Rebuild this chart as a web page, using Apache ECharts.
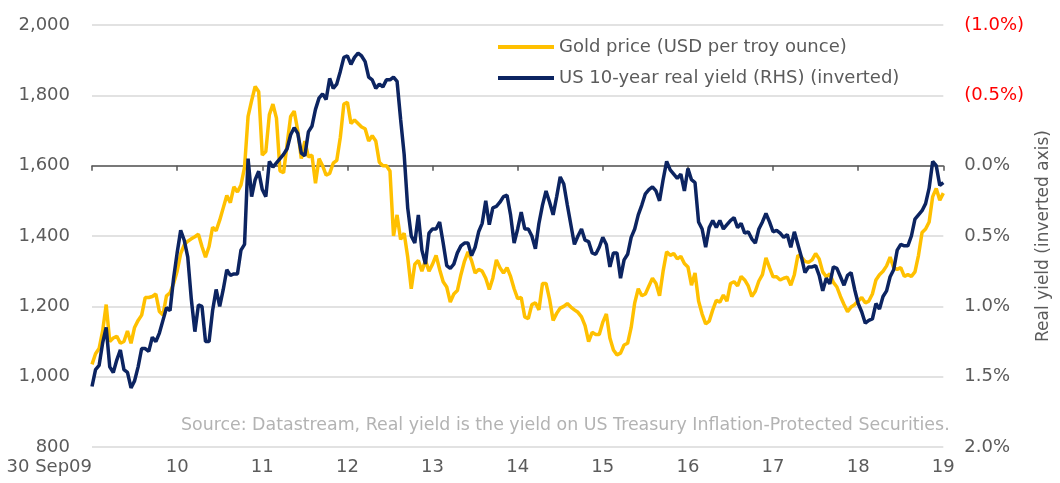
<!DOCTYPE html>
<html><head><meta charset="utf-8">
<script src="https://cdn.jsdelivr.net/npm/echarts@6/dist/echarts.min.js"></script>
<style>html,body{margin:0;padding:0;background:#fff}#c{width:1060px;height:483px}</style>
</head><body><div id="c"></div>
<script>
// Semi-monthly observations, 30 Sep 2009 .. 30 Sep 2019 (24 per year)
const xTickLabels = ['30 Sep09','10','11','12','13','14','15','16','17','18','19'];
const pointsPerYear = 24;
const goldPrice = [
1035,1065,1080,1130,1205,1100,1110,1115,1095,1100,
1130,1095,1140,1160,1175,1225,1225,1228,1235,1185,
1175,1230,1238,1265,1300,1350,1375,1385,1392,1398,
1405,1370,1340,1370,1425,1415,1445,1480,1515,1495,
1540,1525,1545,1595,1740,1785,1825,1810,1630,1640,
1745,1775,1735,1585,1580,1660,1740,1755,1700,1620,
1670,1625,1630,1550,1620,1600,1573,1578,1607,1615,
1680,1775,1780,1720,1730,1720,1710,1705,1670,1685,
1670,1610,1600,1600,1585,1400,1460,1390,1408,1340,
1250,1320,1330,1300,1330,1300,1320,1345,1305,1270,
1255,1212,1235,1245,1290,1328,1355,1330,1295,1305,
1300,1280,1248,1280,1332,1310,1295,1310,1285,1250,
1222,1225,1170,1165,1205,1210,1190,1265,1265,1220,
1160,1180,1195,1200,1208,1198,1190,1183,1170,1145,
1100,1126,1120,1120,1155,1178,1110,1076,1062,1067,
1090,1095,1140,1210,1250,1230,1235,1258,1280,1265,
1230,1300,1355,1345,1350,1335,1342,1322,1312,1260,
1295,1215,1178,1150,1158,1190,1217,1212,1232,1215,
1265,1270,1258,1285,1275,1258,1228,1243,1272,1290,
1338,1310,1284,1284,1275,1280,1283,1260,1290,1345,
1340,1328,1325,1332,1350,1335,1298,1284,1292,1268,
1255,1228,1205,1185,1198,1205,1215,1225,1210,1215,
1235,1275,1290,1300,1315,1340,1310,1305,1310,1285,
1290,1285,1298,1345,1410,1420,1440,1512,1535,1502,
1522];
const realYield = [
1.57,1.45,1.42,1.26,1.15,1.43,1.47,1.38,1.31,1.45,
1.47,1.58,1.53,1.43,1.30,1.30,1.32,1.22,1.25,1.19,
1.10,1.01,1.03,0.80,0.62,0.46,0.53,0.65,0.95,1.18,
0.99,1.00,1.25,1.25,1.03,0.88,1.00,0.88,0.74,0.78,
0.77,0.77,0.60,0.56,-0.05,0.22,0.10,0.04,0.17,0.22,
-0.03,0.01,-0.02,-0.05,-0.08,-0.12,-0.22,-0.27,-0.23,-0.09,
-0.07,-0.24,-0.28,-0.40,-0.48,-0.51,-0.47,-0.62,-0.55,-0.58,
-0.67,-0.77,-0.78,-0.72,-0.77,-0.80,-0.78,-0.74,-0.63,-0.61,
-0.55,-0.58,-0.56,-0.61,-0.61,-0.63,-0.60,-0.33,-0.08,0.30,
0.50,0.55,0.35,0.60,0.70,0.48,0.45,0.45,0.40,0.55,
0.71,0.73,0.70,0.62,0.57,0.55,0.55,0.64,0.58,0.47,
0.41,0.25,0.42,0.30,0.29,0.26,0.22,0.21,0.35,0.55,
0.45,0.33,0.45,0.45,0.50,0.59,0.41,0.28,0.18,0.26,
0.35,0.22,0.08,0.13,0.28,0.42,0.56,0.50,0.45,0.53,
0.54,0.62,0.63,0.58,0.51,0.56,0.72,0.62,0.62,0.80,
0.67,0.63,0.51,0.45,0.35,0.28,0.20,0.17,0.15,0.18,
0.25,0.10,-0.03,0.03,0.06,0.09,0.06,0.18,0.02,0.10,
0.12,0.40,0.45,0.58,0.44,0.39,0.44,0.39,0.45,0.42,
0.39,0.37,0.44,0.41,0.48,0.47,0.52,0.55,0.45,0.40,
0.34,0.40,0.47,0.46,0.48,0.51,0.49,0.58,0.47,0.56,
0.65,0.76,0.72,0.72,0.71,0.78,0.89,0.80,0.84,0.72,
0.73,0.79,0.85,0.78,0.76,0.88,0.98,1.04,1.12,1.10,
1.09,0.98,1.02,0.93,0.89,0.79,0.74,0.60,0.56,0.57,
0.57,0.50,0.38,0.35,0.32,0.27,0.16,-0.03,0.00,0.14,
0.12];
const seriesNames = ['Gold price (USD per troy ounce)','US 10-year real yield (RHS) (inverted)'];
const sourceNote = 'Source: Datastream, Real yield is the yield on US Treasury Inflation-Protected Securities.';
const rightAxisName = 'Real yield (inverted axis)';

const categories = goldPrice.map((_, i) => String(i));
const FONT = 'DejaVu Sans';
const GREY = '#5b5b5b';

const chart = echarts.init(document.getElementById('c'), null, {renderer: 'canvas'});
chart.setOption({
  animation: false,
  textStyle: {fontFamily: FONT},
  grid: {left: 92, right: 109, top: 25, bottom: 36, containLabel: false},
  legend: {
    orient: 'vertical', left: 493, top: 33, itemGap: 13,
    itemWidth: 56, itemHeight: 4, icon: 'rect',
    textStyle: {fontFamily: FONT, fontSize: 18, color: GREY},
    data: seriesNames
  },
  graphic: [{
    type: 'text', left: 181, top: 417,
    style: {text: sourceNote, font: '17.4px ' + FONT, fill: '#b3b3b3'}
  }],
  xAxis: {
    type: 'category', data: categories, boundaryGap: false,
    axisLine: {lineStyle: {color: '#555', width: 1.5}},
    axisTick: {show: true, length: 5, interval: (i) => i % pointsPerYear === 0, lineStyle: {color: '#555', width: 1.5}},
    axisLabel: {
      interval: (i) => i % pointsPerYear === 0,
      formatter: (v, i) => xTickLabels[Math.round(i / pointsPerYear)],
      fontSize: 18, color: GREY, margin: 11, alignMinLabel: 'right'
    },
    splitLine: {show: false}
  },
  yAxis: [{
    type: 'value', min: 800, max: 2000, interval: 200,
    axisLine: {show: false}, axisTick: {show: false},
    axisLabel: {fontSize: 18, color: GREY, margin: 22,
      formatter: (v) => v.toLocaleString('en-US')},
    splitLine: {lineStyle: {color: '#d9d9d9', width: 1.5}}
  }, {
    type: 'value', min: -1, max: 2, interval: 0.5, inverse: true,
    position: 'right',
    axisLine: {show: false}, axisTick: {show: false},
    splitLine: {show: false},
    axisLabel: {fontSize: 18, margin: 21,
      formatter: (v) => v < 0 ? '{neg|(' + Math.abs(v).toFixed(1) + '%)}' : '{pos|' + v.toFixed(1) + '%}',
      rich: {neg: {color: '#ff0000', fontSize: 18, fontFamily: FONT}, pos: {color: GREY, fontSize: 18, fontFamily: FONT}}
    },
    name: rightAxisName, nameLocation: 'middle', nameRotate: 90, nameGap: 87,
    nameTextStyle: {fontSize: 17, color: GREY, fontFamily: FONT}
  }],
  series: [{
    name: seriesNames[0], type: 'line', yAxisIndex: 0, data: goldPrice,
    showSymbol: false, symbol: 'none', lineStyle: {color: '#FFC000', width: 3.5}, itemStyle: {color: '#FFC000'}
  }, {
    name: seriesNames[1], type: 'line', yAxisIndex: 1, data: realYield,
    showSymbol: false, symbol: 'none', lineStyle: {color: '#0C2461', width: 3.5}, itemStyle: {color: '#0C2461'}
  }]
});
</script></body></html>
